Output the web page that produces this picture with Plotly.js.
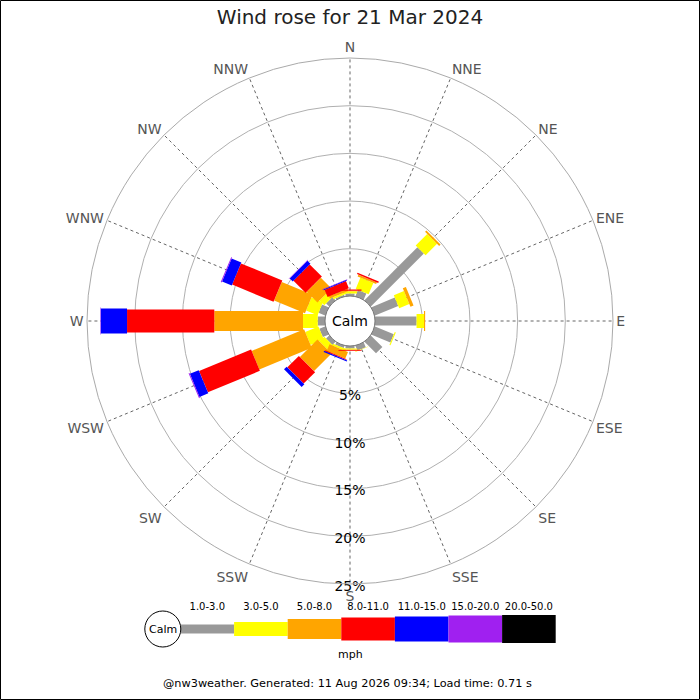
<!DOCTYPE html>
<html>
<head>
<meta charset="utf-8">
<script src="https://cdn.plot.ly/plotly-3.0.1.min.js"></script>
<style>
  html, body { margin: 0; padding: 0; background: #fff; }
  #chart { width: 700px; height: 700px; }
</style>
</head>
<body>
<div id="chart"></div>
<script>
// directions, clockwise from north
var dirs = ['N', 'NNE', 'NE', 'ENE', 'E', 'ESE', 'SE', 'SSE',
            'S', 'SSW', 'SW', 'WSW', 'W', 'WNW', 'NW', 'NNW'];

// % of time in each speed bin (mph), per direction
var spd1to3   = [0.3, 0.75, 7.9, 2.7, 4.4, 2.2, 1.75, 0.6, 0.3, 0.3, 0.5, 0.7, 0.8, 0.8, 0.5, 0.2];
var spd3to5   = [0.25, 1.3, 1.7, 1.15, 0.78, 0.12, 0, 0.05, 0.1, 0.2, 0.7, 1.5, 1.55, 1.3, 0.7, 0.2];
var spd5to8   = [0.05, 0.2, 0.2, 0.35, 0.12, 0, 0, 0, 0.1, 0.75, 2.6, 5.95, 9.3, 3.5, 1.6, 0.25];
var spd8to11  = [0.12, 0.15, 0, 0, 0, 0, 0, 0, 0.08, 0.1, 1.7, 5.9, 9.15, 4.7, 1.8, 0.8];
var spd11to15 = [0, 0, 0, 0, 0, 0, 0, 0, 0, 0.12, 0.4, 1.0, 2.75, 1.1, 0.45, 0.1];
var spd15to20 = [0, 0, 0, 0, 0, 0, 0, 0, 0, 0, 0, 0.1, 0.05, 0.1, 0.05, 0.05];
var spd20to50 = [0, 0, 0, 0, 0, 0, 0, 0, 0, 0, 0, 0, 0, 0, 0, 0];

var binLabels = ['1.0-3.0', '3.0-5.0', '5.0-8.0', '8.0-11.0', '11.0-15.0', '15.0-20.0', '20.0-50.0'];
var radialTicks = [5, 10, 15, 20, 25];
var radialTickLabels = ['5%', '10%', '15%', '20%', '25%'];

var binValues = [spd1to3, spd3to5, spd5to8, spd8to11, spd11to15, spd15to20, spd20to50];
var binColors = ['#999999', '#ffff00', '#ffa500', '#ff0000', '#0000ff', '#a020f0', '#000000'];
var binWidths = [9, 14, 20, 23, 25, 27, 28];

var FONT = 'DejaVu Sans, sans-serif';
var LABEL_LIFT = 0.4; // % labels hang just below their ring

// stacked bars of the rose, one trace per speed bin
var cum = dirs.map(function() { return 0; });
var traces = [];
for (var b = 0; b < binValues.length; b++) {
  var r = [], th = [];
  for (var d = 0; d < dirs.length; d++) {
    var v = binValues[b][d];
    if (v > 0) {
      r.push(cum[d], cum[d] + v, null);
      th.push(dirs[d], dirs[d], null);
    }
    cum[d] += v;
  }
  traces.push({
    type: 'scatterpolar',
    mode: 'lines',
    r: r,
    theta: th,
    connectgaps: false,
    line: { color: binColors[b], width: binWidths[b] },
    hoverinfo: 'skip',
    showlegend: false
  });
}

// % labels down the south spoke
traces.push({
  type: 'scatterpolar',
  mode: 'text',
  r: radialTicks.map(function(t) { return t - LABEL_LIFT; }),
  theta: radialTicks.map(function() { return 'S'; }),
  text: radialTickLabels,
  textposition: 'bottom center',
  textfont: { family: FONT, size: 14, color: '#000' },
  cliponaxis: false,
  hoverinfo: 'skip',
  showlegend: false
});

// speed key below the rose
for (var i = 0; i < binLabels.length; i++) {
  traces.push({
    type: 'scatter',
    mode: 'lines',
    x: [i, i + 1],
    y: [0, 0],
    xaxis: 'x',
    yaxis: 'y',
    line: { color: binColors[i], width: binWidths[i] },
    hoverinfo: 'skip',
    showlegend: false
  });
}
traces.push({
  type: 'scatter',
  mode: 'text',
  x: binLabels.map(function(l, i) { return i + 0.5; }),
  y: binLabels.map(function() { return 22; }),
  text: binLabels,
  textfont: { family: FONT, size: 10, color: '#000' },
  cliponaxis: false,
  hoverinfo: 'skip',
  showlegend: false
});

var W = 700, H = 700;
var cy = 1 - 321 / H;

var layout = {
  width: W,
  height: H,
  margin: { l: 0, r: 0, t: 0, b: 0 },
  paper_bgcolor: '#fff',
  plot_bgcolor: '#fff',
  showlegend: false,
  title: {
    text: 'Wind rose for 21 Mar 2024',
    font: { family: FONT, size: 20, color: '#222' },
    x: 0.5, xanchor: 'center',
    y: 1 - 17 / H, yanchor: 'middle', yref: 'container'
  },
  polar: {
    domain: { x: [87 / W, 613 / W], y: [1 - 584 / H, 1 - 58 / H] },
    hole: 0.0935,
    bgcolor: '#fff',
    angularaxis: {
      type: 'category',
      categoryarray: dirs,
      rotation: 90,
      direction: 'clockwise',
      showline: true,
      linecolor: '#aaaaaa',
      linewidth: 1,
      showgrid: true,
      gridcolor: '#222222',
      gridwidth: 0.7,
      griddash: 'dot',
      ticks: '',
      tickfont: { family: FONT, size: 14, color: '#555' }
    },
    radialaxis: {
      range: [0, 25],
      tickvals: radialTicks,
      showticklabels: false,
      ticks: '',
      showline: false,
      showgrid: true,
      gridcolor: '#b0b0b0',
      gridwidth: 1
    }
  },
  xaxis: {
    domain: [140 / W, 560 / W],
    range: [-0.7556, 7.0802],
    showgrid: false, zeroline: false, showticklabels: false, showline: false, fixedrange: true
  },
  yaxis: {
    domain: [1 - 659 / H, 1 - 599 / H],
    range: [-30, 30],
    showgrid: false, zeroline: false, showticklabels: false, showline: false, fixedrange: true
  },
  shapes: [
    // calm circle in the middle of the rose
    {
      type: 'circle', layer: 'above',
      xref: 'paper', yref: 'paper',
      xsizemode: 'pixel', ysizemode: 'pixel',
      xanchor: 0.5, yanchor: cy,
      x0: -25, x1: 25, y0: -25, y1: 25,
      fillcolor: '#fff', line: { color: '#777', width: 1 }
    },
    // calm circle in the key
    {
      type: 'circle', layer: 'above',
      xref: 'x', yref: 'y',
      xsizemode: 'pixel', ysizemode: 'pixel',
      xanchor: -0.33, yanchor: 0,
      x0: -18, x1: 18, y0: -18, y1: 18,
      fillcolor: '#fff', line: { color: '#000', width: 1 }
    },
    // frame
    {
      type: 'rect', xref: 'paper', yref: 'paper',
      x0: 0.5 / W, x1: 699.5 / W, y0: 0.5 / H, y1: 699.5 / H,
      line: { color: '#000', width: 1 }
    }
  ],
  annotations: [
    {
      text: 'Calm', xref: 'paper', yref: 'paper', x: 0.5, y: cy,
      showarrow: false, font: { family: FONT, size: 14, color: '#000' }
    },
    {
      text: 'Calm', xref: 'x', yref: 'y', x: -0.33, y: 0,
      showarrow: false, font: { family: FONT, size: 11, color: '#000' }
    },
    {
      text: 'mph', xref: 'x', yref: 'y', x: 3.18, y: -25,
      showarrow: false, font: { family: FONT, size: 11, color: '#000' }
    },
    {
      text: '@nw3weather. Generated: 11 Aug 2026 09:34; Load time: 0.71 s',
      xref: 'paper', yref: 'paper', x: 0.497, y: 1 - 692 / H,
      showarrow: false, font: { family: FONT, size: 11.3, color: '#000' }
    }
  ]
};

Plotly.newPlot('chart', traces, layout, { staticPlot: true, displayModeBar: false });
</script>
</body>
</html>
